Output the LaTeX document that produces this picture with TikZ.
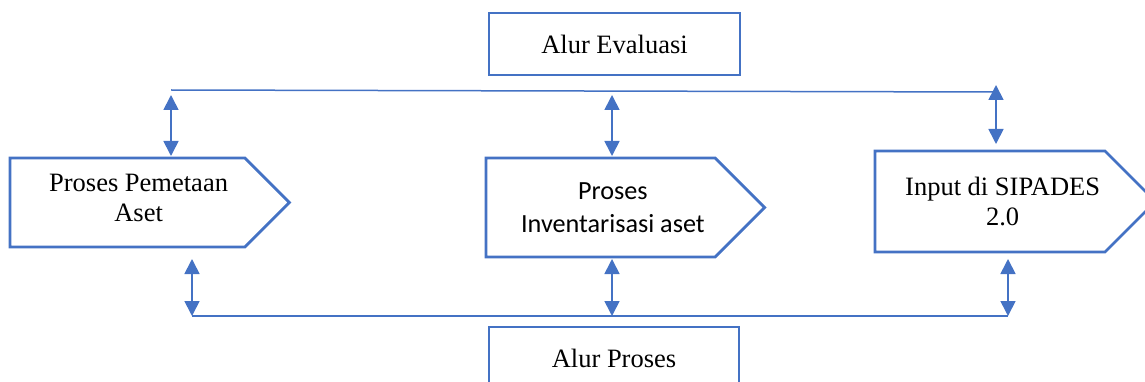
\documentclass[tikz,border=0pt]{standalone}
\usepackage{fontspec}
\setmainfont{Liberation Serif}
\newfontfamily\calibri{Carlito}
\usetikzlibrary{arrows.meta}
\definecolor{wordblue}{HTML}{4472C4}

\begin{document}
\begin{tikzpicture}[x=1pt,y=-1pt,
    flowbox/.style={draw=wordblue,line width=2.8pt,minimum width=251pt,minimum height=62pt,inner sep=0pt,font=\fontsize{26.5}{30}\selectfont},
    steptext/.style={inner sep=0pt,outer sep=0pt,align=center,font=\fontsize{26.5}{30}\selectfont},
    pentagon/.style={draw=wordblue,line width=2.8pt,line join=miter},
    flowline/.style={draw=wordblue,line width=1.5pt},
    biarrow/.style={flowline,line width=1.7pt,{Triangle[width=15pt,length=15pt]}-{Triangle[width=15pt,length=15pt]}}]
    \useasboundingbox (0,0) rectangle (1145,382);
    \clip (0,0) rectangle (1145,382);

    \node[flowbox] (evaluasi) at (614.5,44) {Alur Evaluasi};
    \node[flowbox,minimum width=250pt] (proses) at (614,358) {Alur Proses};

    \node[steptext,minimum width=257.25pt,minimum height=89pt] (pemetaan) at (138.6,202.5) {Proses Pemetaan\\Aset\strut};
    \node[steptext,minimum width=253.75pt,minimum height=99pt,font=\calibri\fontsize{26.2}{33}\selectfont] (inventaris) at (612.9,207.5) {Proses\\Inventarisasi aset};
    \node[steptext,minimum width=255.25pt,minimum height=101pt] (sipades) at (1002.6,201.5) {Input di SIPADES\\2.0};
    \foreach \n/\h in {pemetaan/22.25, inventaris/24.75, sipades/25.25}
        \draw[pentagon] (\n.north west) -- ([xshift=-\h pt]\n.north east) -- ([xshift=\h pt]\n.east)
            -- ([xshift=-\h pt]\n.south east) -- (\n.south west) -- cycle;

    % evaluation line
    \coordinate (evalA) at (171,90);
    \coordinate (evalB) at (612,91);
    \coordinate (evalC) at (996,92);
    \draw[flowline] (evalA) -- (evalC);
    \draw[biarrow,shorten <=5pt,shorten >=2pt] (evalA) -- (evalA |- pemetaan.north);
    \draw[biarrow,shorten <=4pt,shorten >=2pt] (evalB) -- (evalB |- inventaris.north);
    \draw[biarrow,shorten <=-7pt,shorten >=7pt] (evalC) -- (evalC |- sipades.north);

    % process line
    \coordinate (procA) at (192,316);
    \coordinate (procB) at (612,316);
    \coordinate (procC) at (1008,316);
    \draw[flowline] (procA) -- (procC);
    \draw[biarrow,shorten <=12pt] (procA |- pemetaan.south) -- (procA);
    \draw[biarrow,shorten <=2pt] (procB |- inventaris.south) -- (procB);
    \draw[biarrow,shorten <=7pt] (procC |- sipades.south) -- (procC);
\end{tikzpicture}
\end{document}
